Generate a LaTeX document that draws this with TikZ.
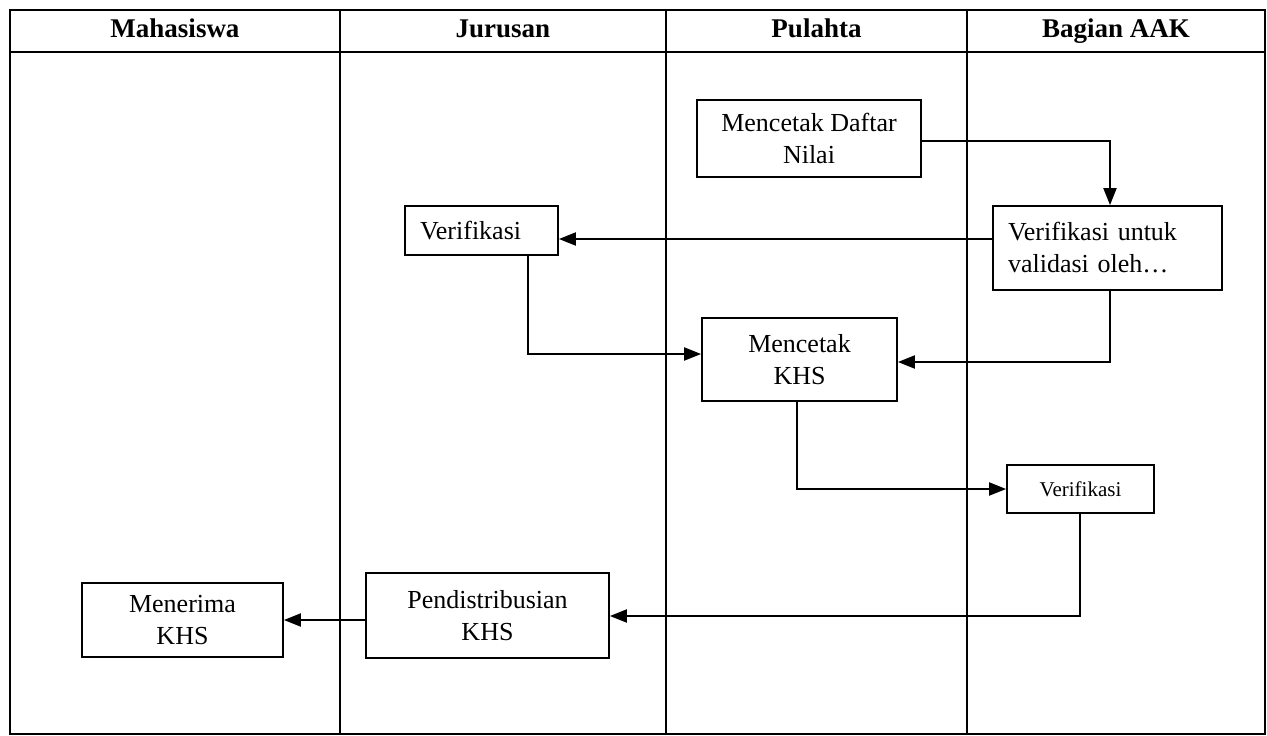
\documentclass[tikz,border=0pt]{standalone}
\usepackage{fontspec}
\setmainfont{Liberation Serif}
\usetikzlibrary{arrows.meta, positioning}
\tikzset{%
	proc/.style={
		draw,
		line width=1.8pt,
		align=center,
		inner sep=0pt,
		font=\fontsize{26}{32}\selectfont
	},
	flow/.style={
		-{Triangle[length=17pt,width=13pt]},
		line width=2pt
	},
	lane/.style={line width=1.3pt},
	lanehead/.style={
		font=\fontsize{27}{30}\selectfont\bfseries,
		text height=18pt,
		text depth=6pt
	},
}
\begin{document}
\begin{tikzpicture}[x=1pt,y=-1pt]
	\useasboundingbox (0,0) rectangle (1267,736);
	
	% Draw the swimlane table
	\draw[lane] (10,10) rectangle (1265,734);
	\draw[lane] (10,52) -- (1265,52);
	\draw[lane] (340,10) -- (340,734);
	\draw[lane] (666,10) -- (666,734);
	\draw[lane] (967,10) -- (967,734);
	
	% Lane headers
	\node[lanehead] (hmhs) at (175,31) {Mahasiswa};
	\node[lanehead] (hjur) at (503,31) {Jurusan};
	\node[lanehead] (hpul) at (816.5,31) {Pulahta};
	\node[lanehead] (haak) at (1116,31) {Bagian AAK};
	
	% Draw the process boxes
	\node[proc, minimum width=224, minimum height=77] (cetaknilai) at (809,138.5) {Mencetak Daftar\\Nilai};
	\node[proc, minimum height=84, text width=199, inner xsep=15, align=left] (validasi) at (1107.5,248) {Verifikasi untuk\\validasi oleh\ldots};
	\node[proc, minimum height=49, text width=123, inner xsep=15, align=left] (verjur) at (481.5,230.5) {Verifikasi};
	\node[proc, minimum width=195, minimum height=83] (cetakkhs) at (799.5,359.5) {Mencetak\\KHS};
	\node[proc, minimum width=147, minimum height=48, font=\fontsize{21}{26}\selectfont] (veraak) at (1080.5,489) {Verifikasi};
	\node[proc, minimum width=243, minimum height=85] (distribusi) at (487.5,615.5) {Pendistribusian\\KHS};
	\node[proc, minimum width=201, minimum height=74] (terima) at (182.5,620) {Menerima\\KHS};
	
	% Draw the flow arrows
	\draw[flow] ([yshift=-2pt]cetaknilai.east) -| ([xshift=2.5pt]validasi.north);
	\coordinate (valw) at ([yshift=9pt]validasi.west);
	\draw[flow] (valw) -- (verjur.east |- valw);
	\draw[flow] ([xshift=46.5pt]verjur.south) |- ([yshift=5.5pt]cetakkhs.west);
	\draw[flow] ([xshift=2.5pt]validasi.south) |- ([yshift=-2.5pt]cetakkhs.east);
	\draw[flow] ([xshift=-2.5pt]cetakkhs.south) |- (veraak.west);
	\draw[flow] ([xshift=-0.5pt]veraak.south) |- ([yshift=-0.5pt]distribusi.east);
	\draw[flow] (distribusi.west |- terima.east) -- (terima.east);
	
\end{tikzpicture}
\end{document}
